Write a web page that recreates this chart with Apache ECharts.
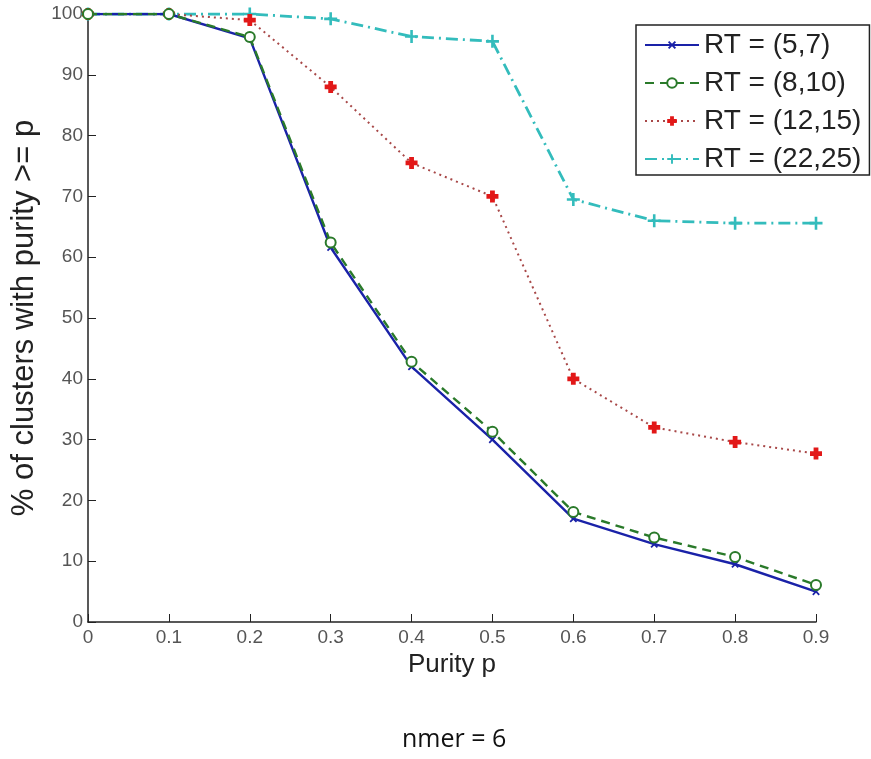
<!DOCTYPE html>
<html><head><meta charset="utf-8">
<script src="https://cdn.jsdelivr.net/npm/echarts@6/dist/echarts.min.js"></script>
<style>html,body{margin:0;padding:0;background:#fff}#c{width:871px;height:759px}</style>
</head><body><div id="c"></div>
<script>
const purity = [0, 0.1, 0.2, 0.3, 0.4, 0.5, 0.6, 0.7, 0.8, 0.9];
const rt57   = [100, 100, 96, 61.6, 42, 30, 17, 12.8, 9.5, 5];
const rt810  = [100, 100, 96.2, 62.4, 42.8, 31.3, 18.1, 13.9, 10.7, 6.1];
const rt1215 = [100, 100, 99, 88, 75.5, 70, 40, 32, 29.6, 27.7];
const rt2225 = [100, 100, 100, 99.2, 96.3, 95.5, 69.5, 66, 65.6, 65.6];
const seriesNames = ['RT = (5,7)', 'RT = (8,10)', 'RT = (12,15)', 'RT = (22,25)'];
const yTicks = [0, 10, 20, 30, 40, 50, 60, 70, 80, 90, 100];

const plusPath = 'path://M4,0h2v4h4v2h-4v4h-2v-4h-4v-2h4z';
const fatPlus = 'path://M3,0h4v3h3v4h-3v3h-4v-3h-3v-4h3z';
const pairs = arr => purity.map((p, i) => [p, arr[i]]);

const chart = echarts.init(document.getElementById('c'), null, {renderer: 'canvas'});
chart.setOption({
  animation: false,
  backgroundColor: '#fff',
  title: {
    text: 'nmer = 6', left: 397, top: 722,
    textStyle: {fontFamily: 'Open Sans, Lato, sans-serif', fontSize: 25, fontWeight: 'normal', color: '#111'}
  },
  grid: {left: 88, right: 55, top: 14, bottom: 137},
  legend: {
    orient: 'vertical', left: 636, top: 25,
    borderColor: '#222', borderWidth: 1.5, backgroundColor: '#fff',
    padding: [6, 8, 2, 8],
    itemWidth: 54, itemHeight: 12, itemGap: 10,
    textStyle: {fontFamily: 'Liberation Sans, Arial, sans-serif', fontSize: 28, color: '#222'},
    data: seriesNames
  },
  xAxis: {
    type: 'value', min: 0, max: 0.9, interval: 0.1,
    name: 'Purity p', nameLocation: 'middle', nameGap: 30,
    nameTextStyle: {fontFamily: 'Liberation Sans, Arial, sans-serif', fontSize: 26, color: '#222'},
    axisLine: {lineStyle: {color: '#222', width: 1.5}},
    axisTick: {inside: true, length: 8, lineStyle: {color: '#222'}},
    axisLabel: {fontFamily: 'Liberation Sans Narrow, Liberation Sans, sans-serif', fontSize: 19, color: '#555', margin: 6,
      formatter: v => (Math.round(v * 10) / 10).toString()},
    splitLine: {show: false}
  },
  yAxis: {
    type: 'value', min: 0, max: 100, interval: 10,
    name: '% of clusters with purity >= p', nameLocation: 'middle', nameGap: 38,
    nameTextStyle: {fontFamily: 'Liberation Sans, Arial, sans-serif', fontSize: 31, color: '#222'},
    axisLine: {lineStyle: {color: '#222', width: 1.5}},
    axisTick: {inside: true, length: 8, lineStyle: {color: '#222'}},
    axisLabel: {fontFamily: 'Liberation Sans Narrow, Liberation Sans, sans-serif', fontSize: 19, color: '#555', margin: 5,
      formatter: v => yTicks.includes(v) ? String(v) : ''},
    splitLine: {show: false}
  },
  series: [
    {
      name: seriesNames[0], type: 'line', data: pairs(rt57),
      symbol: plusPath, symbolRotate: 45, symbolSize: 9,
      lineStyle: {color: '#1a22a8', width: 2.4, type: 'solid'},
      itemStyle: {color: '#1a22a8'}, z: 3
    },
    {
      name: seriesNames[1], type: 'line', data: pairs(rt810),
      symbol: 'emptyCircle', symbolSize: 10,
      lineStyle: {color: '#2a7a2a', width: 2.4, type: [9, 6]},
      itemStyle: {color: '#2a7a2a', borderWidth: 2.2}, z: 4
    },
    {
      name: seriesNames[2], type: 'line', data: pairs(rt1215),
      symbol: fatPlus, symbolSize: 12,
      lineStyle: {color: '#a84848', width: 2, type: [2, 4]},
      itemStyle: {color: '#e21818'}, z: 2
    },
    {
      name: seriesNames[3], type: 'line', data: pairs(rt2225),
      symbol: plusPath, symbolSize: 13,
      lineStyle: {color: '#33bcbc', width: 2.8, type: [12, 5, 2, 5]},
      itemStyle: {color: '#33bcbc'}, z: 1
    }
  ]
});
</script>
</body></html>
